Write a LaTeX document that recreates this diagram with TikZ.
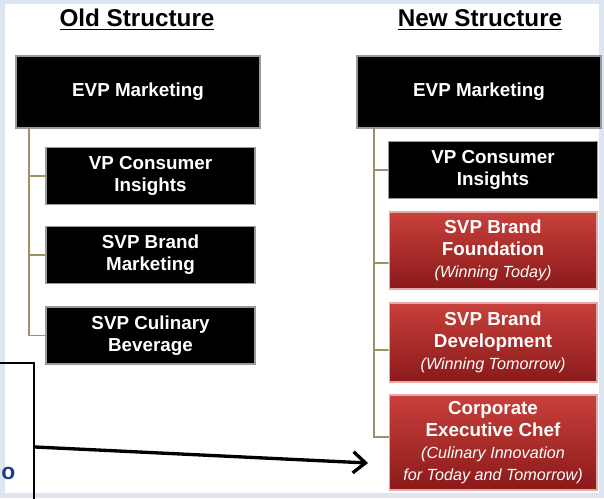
\documentclass[tikz,border=0pt]{standalone}
\usepackage{fontspec}
\setmainfont{Liberation Sans}
\usetikzlibrary{arrows.meta,positioning,calc}
\definecolor{pane}{HTML}{DCE6F2}
\definecolor{olive}{HTML}{9C9266}
\definecolor{redtop}{HTML}{C8403B}
\definecolor{redbot}{HTML}{8A1A1A}
\definecolor{inkblue}{HTML}{1F3C88}
\tikzset{
  hdr/.style={font=\bfseries\fontsize{13.8}{16}\selectfont},
  boss/.style={fill=black, draw=black!40, line width=0.8pt, text=white, align=center,
    minimum width=4.88cm, minimum height=1.44cm, inner sep=1pt,
    font=\bfseries\fontsize{10.7}{12.5}\selectfont},
  blackbox/.style={boss, minimum width=4.18cm, minimum height=1.14cm},
  redbox/.style={top color=redtop, bottom color=redbot, draw=redtop!45!white,
    line width=0.6pt, text=white, align=center, minimum width=4.16cm, inner sep=1pt,
    font=\bfseries\fontsize{10.7}{12.5}\selectfont},
  link/.style={olive, line width=1pt},
  pointer/.style={-{Straight Barb[length=7pt,width=12pt]}, line width=1.9pt},
}
\newcommand{\subline}[1]{{\mdseries\itshape\fontsize{9.2}{10.5}\selectfont #1}}

\begin{document}
\begin{tikzpicture}[x=0.02cm, y=-0.02cm]
  \useasboundingbox (0,0) rectangle (604,498);
  \fill[pane] (0,0) rectangle (604,498);
  \fill[white] (5,4) rectangle (599,493);

  % titles
  \node[hdr] (oldhdr) at (137,20) {\underline{Old Structure}};
  \node[hdr] (newhdr) at (480,20) {\underline{New Structure}};

  % old structure
  \node[boss] (oevp) at (138,92) {EVP Marketing};
  \node[blackbox] (ovpci) at (150.5,176) {VP Consumer\\Insights};
  \node[blackbox] (osvpbm) at (150.5,255) {SVP Brand\\Marketing};
  \node[blackbox] (osvpcb) at (150.5,335.5) {SVP Culinary\\Beverage};
  \coordinate (otrunk) at (29,128);
  \draw[link] (otrunk) |- (osvpcb.west);
  \draw[link] (otrunk |- ovpci.west) -- (ovpci.west);
  \draw[link] (otrunk |- osvpbm.west) -- (osvpbm.west);

  % new structure
  \node[boss] (nevp) at (479,92) {EVP Marketing};
  \node[blackbox] (nvpci) at (493,170) {VP Consumer\\Insights};
  \node[redbox, minimum height=1.54cm] (nsbf) at (493,250.5)
    {SVP Brand\\Foundation\\\subline{(Winning Today)}};
  \node[redbox, minimum height=1.58cm] (nsbd) at (493,342.5)
    {SVP Brand\\Development\\\subline{(Winning Tomorrow)}};
  \node[redbox, minimum height=1.9cm] (nchef) at (493,442.5)
    {Corporate\\Executive Chef\\\subline{(Culinary Innovation}\\\subline{for Today and Tomorrow)}};
  \coordinate (ntrunk) at (374,128);
  \draw[link] (ntrunk) |- ([yshift=0.11cm]nchef.west);
  \draw[link] (ntrunk |- nvpci.west) -- (nvpci.west);
  \draw[link] (ntrunk |- 0,263) -- ([yshift=-0.25cm]nsbf.west);
  \draw[link] (ntrunk |- 0,350) -- ([yshift=-0.15cm]nsbd.west);

  % note frame and pointer
  \node[draw, line width=1pt, minimum width=2cm, minimum height=3cm, anchor=north east] (note) at (35,362) {};
  \node[inkblue, font=\bfseries\fontsize{13}{15}\selectfont, inner sep=0pt, anchor=west] (notetxt) at (1,473) {o};
  \coordinate (tip) at (368,463);
  \draw[pointer] ([yshift=-1.7cm]note.north east) -- (tip);
\end{tikzpicture}
\end{document}
